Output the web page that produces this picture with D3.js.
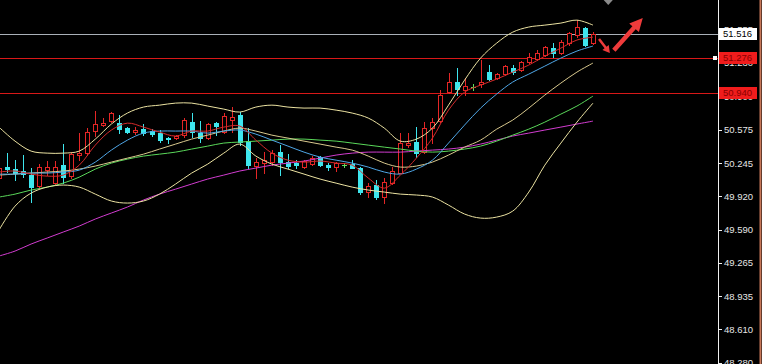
<!DOCTYPE html>
<html>
<head>
<meta charset="utf-8">
<script src="https://cdn.jsdelivr.net/npm/d3@7"></script>
<style>
html, body { margin: 0; padding: 0; background: #000; overflow: hidden; }
svg { display: block; }
</style>
</head>
<body>
<svg id="chart" width="762" height="364"></svg>
<script>
// 蜡烛数据 (开 高 低 收)
const open  = [50.099,50.207,50.187,50.168,50.128,50.020,50.177,50.049,50.226,50.118,
               50.325,50.344,50.561,50.620,50.659,50.639,50.590,50.551,50.580,50.561,
               50.541,50.492,50.492,50.521,50.649,50.541,50.492,50.639,50.551,50.669,
               50.718,50.462,50.217,50.246,50.256,50.354,50.256,50.246,50.207,50.236,
               50.305,50.226,50.207,50.226,50.236,50.197,49.961,50.030,49.912,50.049,
               50.148,50.423,50.453,50.354,50.590,50.659,50.944,51.043,50.964,50.994,
               51.023,51.141,51.082,51.121,51.180,51.161,51.239,51.269,51.308,51.377,
               51.328,51.426,51.505,51.574,51.426];
const high  = [50.226,50.344,50.275,50.325,50.197,50.236,50.266,50.266,50.433,50.354,
               50.541,50.590,50.757,50.689,50.748,50.718,50.600,50.600,50.630,50.580,
               50.571,50.502,50.521,50.689,50.738,50.659,50.639,50.649,50.738,50.797,
               50.748,50.590,50.295,50.354,50.374,50.423,50.334,50.275,50.275,50.315,
               50.315,50.246,50.256,50.246,50.275,50.207,50.049,50.079,50.099,50.207,
               50.541,50.541,50.600,50.649,50.689,50.964,51.131,51.180,51.082,51.023,
               51.259,51.210,51.131,51.210,51.210,51.249,51.328,51.357,51.397,51.426,
               51.456,51.534,51.652,51.584,51.534];
const low   = [50.059,50.158,50.079,50.108,49.863,50.000,50.128,50.040,50.049,50.099,
               50.275,50.325,50.512,50.610,50.649,50.541,50.541,50.531,50.521,50.512,
               50.453,50.443,50.482,50.502,50.502,50.453,50.482,50.521,50.541,50.551,
               50.423,50.197,50.099,50.148,50.226,50.128,50.197,50.197,50.197,50.226,
               50.217,50.177,50.168,50.207,50.197,49.941,49.912,49.892,49.853,50.040,
               50.148,50.403,50.305,50.344,50.443,50.649,50.934,50.915,50.915,50.964,
               50.994,51.062,51.072,51.112,51.121,51.151,51.230,51.259,51.298,51.288,
               51.318,51.406,51.485,51.397,51.416];
const close = [50.197,50.187,50.148,50.138,50.010,50.207,50.207,50.207,50.108,50.334,
               50.344,50.551,50.630,50.639,50.738,50.580,50.551,50.571,50.541,50.531,
               50.472,50.482,50.512,50.669,50.551,50.492,50.630,50.610,50.708,50.698,
               50.453,50.226,50.256,50.275,50.344,50.256,50.217,50.226,50.266,50.295,
               50.226,50.207,50.246,50.226,50.197,49.961,50.020,49.912,50.059,50.168,
               50.443,50.443,50.344,50.590,50.649,50.915,51.043,50.974,51.003,50.994,
               51.043,51.072,51.121,51.200,51.141,51.239,51.288,51.328,51.387,51.328,
               51.436,51.524,51.584,51.406,51.516];

// 指标线 取样的K线序号
const lineIdx = [0,2,4,6,8,10,12,14,16,18,20,22,24,26,28,30,32,34,36,38,
                 40,42,44,46,48,50,52,54,56,58,60,62,64,66,68,70,72,74];
// 布林带 上轨 中轨 下轨
const bollUp  = [50.600,50.462,50.364,50.344,50.344,50.364,50.482,50.630,50.738,50.797,
                 50.816,50.836,50.836,50.807,50.777,50.748,50.797,50.816,50.797,50.787,
                 50.787,50.767,50.738,50.689,50.590,50.462,50.482,50.590,50.816,51.062,
                 51.279,51.426,51.534,51.584,51.603,51.623,51.652,51.603];
const bollMid = [50.128,50.138,50.148,50.158,50.168,50.187,50.217,50.256,50.295,50.334,
                 50.384,50.433,50.482,50.521,50.561,50.590,50.561,50.521,50.492,50.462,
                 50.433,50.403,50.374,50.315,50.246,50.207,50.217,50.256,50.325,50.403,
                 50.472,50.580,50.669,50.787,50.915,51.033,51.141,51.230];
const bollLow = [49.587,49.823,49.951,50.010,50.030,50.010,49.941,49.873,49.853,49.873,
                 49.941,50.040,50.148,50.236,50.344,50.433,50.315,50.236,50.187,50.138,
                 50.089,50.049,50.010,49.981,49.961,49.941,49.932,49.912,49.833,49.745,
                 49.705,49.715,49.774,49.961,50.226,50.443,50.649,50.836];
// 均线
const ma5   = [50.158,50.168,50.138,50.118,50.128,50.226,50.423,50.571,50.639,50.600,
               50.551,50.512,50.561,50.561,50.600,50.610,50.472,50.344,50.275,50.256,
               50.266,50.246,50.226,50.099,50.000,50.128,50.295,50.492,50.767,50.944,
               51.013,51.072,51.141,51.210,51.298,51.377,51.456,51.485];
const ma10  = [50.138,50.138,50.148,50.148,50.158,50.177,50.256,50.374,50.472,50.541,
               50.561,50.561,50.561,50.541,50.561,50.571,50.531,50.472,50.413,50.354,
               50.305,50.275,50.246,50.207,50.158,50.138,50.187,50.275,50.443,50.620,
               50.787,50.925,51.043,51.121,51.200,51.279,51.348,51.397];
const maGreen = [49.912,49.941,49.981,50.010,50.049,50.108,50.187,50.246,50.285,50.315,
                 50.334,50.354,50.384,50.413,50.443,50.453,50.462,50.472,50.482,50.482,
                 50.472,50.462,50.443,50.423,50.403,50.384,50.364,50.354,50.364,50.384,
                 50.413,50.462,50.521,50.580,50.649,50.728,50.807,50.905];
const maPink  = [49.332,49.381,49.450,49.509,49.568,49.627,49.696,49.755,49.814,49.883,
                 49.941,49.990,50.040,50.089,50.128,50.168,50.197,50.226,50.246,50.266,
                 50.295,50.325,50.344,50.354,50.354,50.354,50.364,50.374,50.384,50.403,
                 50.433,50.472,50.512,50.541,50.571,50.600,50.630,50.659];

// 右侧刻度
const tickLabels = ['51.555','51.230','50.900','50.575','50.245','49.920',
                    '49.590','49.265','48.935','48.610','48.280'];
// 水平价位线: 当前价 和 两条红线
const bidPrice = 51.516;
const levelPrices = [51.276, 50.940];
// 红色箭头 (起点/终点: K线序号, 价格)
const arrowFrom = [[74.75, 51.466], [76.6, 51.357]];
const arrowTo   = [[76.1, 51.328], [80.2, 51.672]];

const width = 762, height = 364, axisX = 718;
const svg = d3.select('#chart');

svg.append('rect').attr('width', width).attr('height', height).attr('fill', '#000');

// 比例尺
const x = d3.scaleLinear().domain([0, 74]).range([-1, 593]);
const y = d3.scaleLinear().domain([48.28, 51.555]).range([363, 30]);

svg.append('clipPath').attr('id', 'plot-clip')
    .append('rect').attr('x', 0).attr('y', 0).attr('width', axisX).attr('height', height);

const plot = svg.append('g').attr('clip-path', 'url(#plot-clip)');

// 水平线
plot.append('line')
    .attr('x1', 0).attr('x2', axisX)
    .attr('y1', Math.round(y(bidPrice)) + 0.5).attr('y2', Math.round(y(bidPrice)) + 0.5)
    .attr('stroke', '#a9b0b8').attr('stroke-width', 1);
plot.selectAll('line.level')
    .data(levelPrices)
    .join('line')
    .attr('class', 'level')
    .attr('x1', 0).attr('x2', axisX)
    .attr('y1', d => Math.round(y(d)) + 0.5)
    .attr('y2', d => Math.round(y(d)) + 0.5)
    .attr('stroke', '#d81818').attr('stroke-width', 1);

// K线
const idx = d3.range(open.length);
const upColor = '#e42626', downColor = '#3ee6ee', dojiColor = '#5ee05e';
function candleColor(i) {
    if (open[i] === close[i]) return dojiColor;
    return close[i] > open[i] ? upColor : downColor;
}
const gCandle = plot.append('g').attr('shape-rendering', 'crispEdges');

gCandle.selectAll('line.wick')
    .data(idx)
    .join('line')
    .attr('class', 'wick')
    .attr('x1', i => Math.round(x(i)) + 0.5)
    .attr('x2', i => Math.round(x(i)) + 0.5)
    .attr('y1', i => Math.round(y(high[i])))
    .attr('y2', i => Math.round(y(low[i])) + 1)
    .attr('stroke', candleColor);

gCandle.selectAll('rect.body')
    .data(idx.filter(i => open[i] !== close[i]))
    .join('rect')
    .attr('class', 'body')
    .attr('x', i => Math.round(x(i)) - 1.5)
    .attr('width', 4)
    .attr('y', i => Math.round(y(Math.max(open[i], close[i]))) + 0.5)
    .attr('height', i => Math.max(1, Math.round(y(Math.min(open[i], close[i]))) - Math.round(y(Math.max(open[i], close[i])))))
    .attr('fill', i => close[i] > open[i] ? '#000' : downColor)
    .attr('stroke', candleColor);

gCandle.selectAll('line.doji')
    .data(idx.filter(i => open[i] === close[i]))
    .join('line')
    .attr('class', 'doji')
    .attr('x1', i => Math.round(x(i)) - 2)
    .attr('x2', i => Math.round(x(i)) + 3)
    .attr('y1', i => Math.round(y(open[i])) + 0.5)
    .attr('y2', i => Math.round(y(open[i])) + 0.5)
    .attr('stroke', dojiColor);

// 指标线
const series = [
    {vals: maPink,  color: '#d23cd0'},
    {vals: maGreen, color: '#5ad85a'},
    {vals: bollMid, color: '#d9c98e'},
    {vals: bollUp,  color: '#ece3a2'},
    {vals: bollLow, color: '#ece3a2'},
    {vals: ma10,    color: '#4fa6e6'},
    {vals: ma5,     color: '#d42a2a'}
];
const line = d3.line()
    .x((d, k) => x(lineIdx[k]))
    .y(d => y(d))
    .curve(d3.curveCatmullRom.alpha(0.5));

plot.selectAll('path.ind')
    .data(series)
    .join('path')
    .attr('class', 'ind')
    .attr('d', s => line(s.vals))
    .attr('fill', 'none')
    .attr('stroke', s => s.color)
    .attr('stroke-width', 1);

// 红色箭头
function arrowPath(p0, p1, shaft, head, headLen) {
    const x0 = x(p0[0]), y0 = y(p0[1]), x1 = x(p1[0]), y1 = y(p1[1]);
    const dx = x1 - x0, dy = y1 - y0, len = Math.hypot(dx, dy);
    const ux = dx / len, uy = dy / len, nx = -uy, ny = ux;
    const bx = x1 - ux * headLen, by = y1 - uy * headLen;
    const pts = [
        [x0 + nx * shaft / 2, y0 + ny * shaft / 2],
        [bx + nx * shaft / 2, by + ny * shaft / 2],
        [bx + nx * head / 2, by + ny * head / 2],
        [x1, y1],
        [bx - nx * head / 2, by - ny * head / 2],
        [bx - nx * shaft / 2, by - ny * shaft / 2],
        [x0 - nx * shaft / 2, y0 - ny * shaft / 2]
    ];
    return 'M' + pts.map(p => p.join(',')).join('L') + 'Z';
}
svg.append('path')
    .attr('d', arrowPath(arrowFrom[0], arrowTo[0], 2.5, 8, 7))
    .attr('fill', '#ee3b3b');
svg.append('path')
    .attr('d', arrowPath(arrowFrom[1], arrowTo[1], 4.5, 13, 13))
    .attr('fill', '#ee3b3b');

// 顶部灰色三角
svg.append('path')
    .attr('d', d3.line()([[x(75.1), -2], [x(76.7), -2], [x(75.9), 5]]) + 'Z')
    .attr('fill', '#8a8a8a');

// 右侧坐标轴
const axisG = svg.append('g').attr('transform', 'translate(' + axisX + ',0)');
axisG.append('line')
    .attr('x1', 0.5).attr('x2', 0.5).attr('y1', 0).attr('y2', height)
    .attr('stroke', '#f0f0f0');
axisG.selectAll('line.tick')
    .data(tickLabels)
    .join('line')
    .attr('class', 'tick')
    .attr('x1', 1).attr('x2', 4)
    .attr('y1', d => Math.round(y(+d)) + 0.5)
    .attr('y2', d => Math.round(y(+d)) + 0.5)
    .attr('stroke', '#f0f0f0');
axisG.selectAll('text.tick')
    .data(tickLabels)
    .join('text')
    .attr('class', 'tick')
    .attr('x', 6)
    .attr('y', d => y(+d))
    .attr('dy', '0.35em')
    .attr('fill', '#e6e6e6')
    .style('font', '9.5px "Liberation Sans", Arial, sans-serif')
    .text(d => d);

// 价格标签
function priceTag(v, bg, fg) {
    const cy = Math.round(y(v));
    axisG.append('rect')
        .attr('x', 1).attr('y', cy - 6).attr('width', 38).attr('height', 12)
        .attr('fill', bg);
    axisG.append('text')
        .attr('x', 5).attr('y', cy).attr('dy', '0.35em')
        .attr('fill', fg)
        .style('font', '9.5px "Liberation Sans", Arial, sans-serif')
        .text(v.toFixed(3));
}
priceTag(bidPrice, '#ffffff', '#000000');
levelPrices.forEach(v => priceTag(v, '#f01c1c', '#8a0000'));

// 警报标记
svg.append('rect')
    .attr('x', axisX - 5).attr('y', Math.round(y(levelPrices[0])) - 2)
    .attr('width', 4).attr('height', 4)
    .attr('fill', '#ffffff');

// 右边框
svg.append('line')
    .attr('x1', 760.5).attr('x2', 760.5).attr('y1', 0).attr('y2', height)
    .attr('stroke', '#c8785a').attr('stroke-width', 2);
</script>
</body>
</html>
